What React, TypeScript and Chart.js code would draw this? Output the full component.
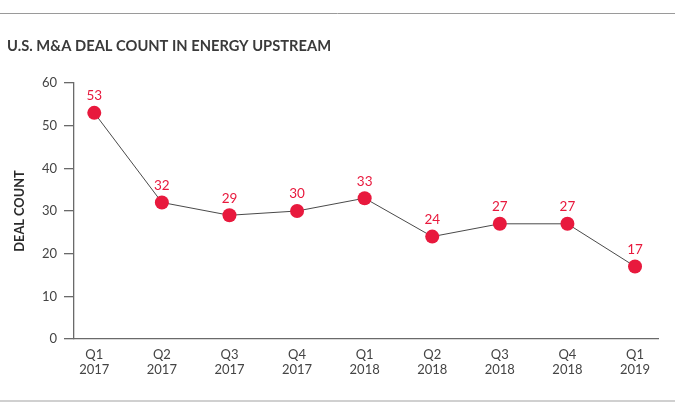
import React, { useEffect, useRef } from "react";
import { Chart, registerables } from "chart.js";

Chart.register(...registerables);

const categories: string[][] = [
  ["Q1", "2017"], ["Q2", "2017"], ["Q3", "2017"], ["Q4", "2017"],
  ["Q1", "2018"], ["Q2", "2018"], ["Q3", "2018"], ["Q4", "2018"],
  ["Q1", "2019"],
];
const dealCounts: number[] = [53, 32, 29, 30, 33, 24, 27, 27, 17];
const yTicks: number[] = [0, 10, 20, 30, 40, 50, 60];

const FONT = "Lato, 'Open Sans', sans-serif";
const RED = "#e8193d";

const decorPlugin = {
  id: "decor",
  beforeDraw(chart: any) {
    const ctx = chart.ctx;
    ctx.save();
    ctx.fillStyle = "#ffffff";
    ctx.fillRect(0, 0, chart.width, chart.height);
    ctx.strokeStyle = "#9a9a9a";
    ctx.lineWidth = 1;
    ctx.beginPath();
    ctx.moveTo(0, 13.5);
    ctx.lineTo(chart.width, 13.5);
    ctx.stroke();
    ctx.strokeStyle = "#d0d0d0";
    ctx.lineWidth = 2;
    ctx.beginPath();
    ctx.moveTo(0, 401);
    ctx.lineTo(chart.width, 401);
    ctx.stroke();
    ctx.fillStyle = "#3a3a3a";
    ctx.font = `bold 14.7px ${FONT}`;
    ctx.textBaseline = "alphabetic";
    ctx.textAlign = "left";
    ctx.fillText("U.S. M&A DEAL COUNT IN ENERGY UPSTREAM", 7, 51);
    ctx.restore();
  },
  afterDatasetsDraw(chart: any) {
    const ctx = chart.ctx;
    const meta = chart.getDatasetMeta(0);
    ctx.save();
    ctx.fillStyle = RED;
    ctx.font = `13.5px ${FONT}`;
    ctx.textAlign = "center";
    ctx.textBaseline = "middle";
    meta.data.forEach((pt: any, i: number) => {
      ctx.fillText(String(dealCounts[i]), pt.x, pt.y - 17);
    });
    ctx.restore();
  },
};

export default function App() {
  const ref = useRef<HTMLCanvasElement>(null);
  useEffect(() => {
    document.body.style.margin = "0";
    const chart = new Chart(ref.current as HTMLCanvasElement, {
      type: "line",
      data: {
        datasets: [
          {
            data: dealCounts.map((v, i) => ({ x: i, y: v })),
            borderColor: "#4a4a4a",
            borderWidth: 1,
            pointRadius: 7,
            pointBackgroundColor: RED,
            pointBorderColor: RED,
            pointBorderWidth: 0,
            tension: 0,
          },
        ],
      },
      options: {
        animation: false,
        responsive: false,
        devicePixelRatio: 1,
        layout: { padding: { left: 0, right: 17, top: 83, bottom: 0 } },
        plugins: { legend: { display: false }, tooltip: { enabled: false }, title: { display: false } },
        scales: {
          x: {
            type: "linear",
            min: -0.3,
            max: 8.34,
            afterBuildTicks: (scale: any) => {
              scale.ticks = categories.map((_, i) => ({ value: i }));
            },
            afterFit: (scale: any) => {
              scale.height = 76;
            },
            ticks: {
              autoSkip: false,
              maxRotation: 0,
              padding: 9,
              color: "#444",
              font: { family: FONT, size: 13, lineHeight: 1.1 },
              callback: (v: any) => categories[Number(v)] ?? "",
            },
            grid: { display: false, drawTicks: false },
            border: { display: true, color: "#6a6a6a", width: 1.3 },
          },
          y: {
            min: 0,
            max: 60,
            afterBuildTicks: (scale: any) => {
              scale.ticks = yTicks.map((v) => ({ value: v }));
            },
            afterFit: (scale: any) => {
              scale.width = 74;
            },
            ticks: {
              padding: 7,
              color: "#444",
              font: { family: FONT, size: 13 },
            },
            grid: {
              display: true,
              drawOnChartArea: false,
              drawTicks: true,
              tickLength: 10,
              color: "#6a6a6a",
              lineWidth: 1.3,
            },
            border: { display: true, color: "#6a6a6a", width: 1.3 },
            title: {
              display: true,
              text: "DEAL COUNT",
              color: "#2a2a2a",
              font: { family: FONT, size: 12.8, weight: "bold" },
              padding: { top: 12, bottom: 0 },
            },
          },
        },
      },
      plugins: [decorPlugin],
    } as any);
    return () => chart.destroy();
  }, []);
  return (
    <div style={{ position: "relative", width: 675, height: 415 }}>
      <canvas ref={ref} width={675} height={415} style={{ display: "block" }} />
    </div>
  );
}
